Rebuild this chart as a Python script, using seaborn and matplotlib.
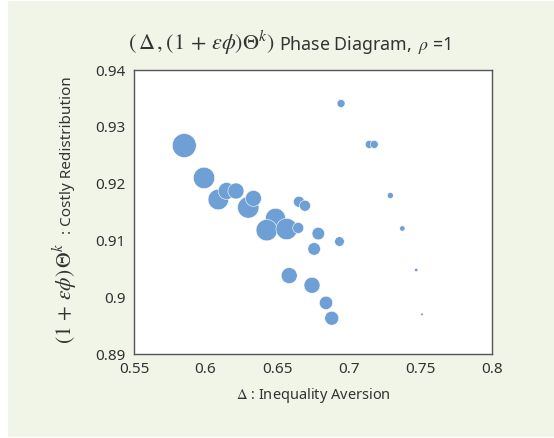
import matplotlib
matplotlib.use("Agg")
import matplotlib.pyplot as plt
from matplotlib.patches import Rectangle
import seaborn as sns
import pandas as pd

# Data
inequality_aversion = [0.5851, 0.5989, 0.6089, 0.6147, 0.6212, 0.6298, 0.6334,
                       0.6488, 0.6427, 0.6566, 0.6647, 0.6652, 0.6694, 0.6787,
                       0.6935, 0.6758, 0.6584, 0.6743, 0.6841, 0.6881, 0.6946,
                       0.7143, 0.7178, 0.7290, 0.7374, 0.7471, 0.7511]
costly_redistribution = [0.9267, 0.9210, 0.9172, 0.9187, 0.9187, 0.9158, 0.9174,
                         0.9139, 0.9118, 0.9120, 0.9122, 0.9168, 0.9161, 0.9112,
                         0.9098, 0.9085, 0.9038, 0.9021, 0.8990, 0.8963, 0.9341,
                         0.9269, 0.9269, 0.9179, 0.9121, 0.9048, 0.8970]
bubble_size = [298, 237, 220, 150, 133, 237, 133,
               207, 237, 237, 63, 63, 63, 82,
               48, 82, 133, 133, 93, 101, 33,
               33, 33, 19, 15, 6, 3.5]
x_ticks = [0.55, 0.6, 0.65, 0.7, 0.75, 0.8]
x_tick_labels = ["0.55", "0.6", "0.65", "0.7", "0.75", "0.8"]
y_ticks = [0.89, 0.9, 0.91, 0.92, 0.93, 0.94]
y_tick_labels = ["0.89", "0.9", "0.91", "0.92", "0.93", "0.94"]

df = pd.DataFrame({"x": inequality_aversion, "y": costly_redistribution, "s": bubble_size})

sns.set_theme(style="white")
plt.rcParams["font.family"] = ["Noto Sans", "DejaVu Sans"]
plt.rcParams["mathtext.fontset"] = "stix"

W, H = 554, 438
text_color = "#333333"
fig = plt.figure(figsize=(W / 100, H / 100), dpi=100)
fig.patch.set_facecolor("white")
fig.patches.append(Rectangle((8 / W, 1 / H), 1 - 8 / W, 1 - 2 / H,
                             transform=fig.transFigure, facecolor="#f1f5e8",
                             edgecolor="none", zorder=-10))

ax = fig.add_axes([134 / W, 1 - 354 / H, 358 / W, 284 / H])
ax.set_facecolor("white")

smin, smax = min(bubble_size), max(bubble_size)
sns.scatterplot(data=df, x="x", y="y", size="s", sizes=(smin, smax),
                size_norm=(smin, smax), color="#6e9fd5", edgecolor="white",
                linewidth=0.4, alpha=1.0, legend=False, ax=ax, zorder=3)

ax.set_xlim(0.55, 0.8)
ax.set_ylim(0.89, 0.94)
ax.set_xticks(x_ticks)
ax.set_xticklabels(x_tick_labels)
ax.set_yticks(y_ticks)
ax.set_yticklabels(y_tick_labels)
ax.tick_params(axis="both", length=0, labelsize=11, colors=text_color, pad=6)
for sp in ax.spines.values():
    sp.set_visible(True)
    sp.set_color("#555555")
    sp.set_linewidth(1.0)

ax.set_xlabel(r"$\Delta$ : Inequality Aversion", fontsize=10.5, color=text_color, labelpad=6)
ax.set_ylabel("")

# y label: larger math part + text part
fig.text(72 / W, 1 - 344 / H, r"$(1\,+\,\epsilon\phi)\,\Theta^k$", rotation=90,
         rotation_mode="anchor", ha="left", va="baseline", fontsize=15.5, color=text_color)
fig.text(71 / W, 1 - 234 / H, ": Costly Redistribution", rotation=90,
         rotation_mode="anchor", ha="left", va="baseline", fontsize=11, color=text_color)

# title: larger math part + text part
fig.text(275 / W, 1 - 50 / H, r"$(\,\Delta\,,(1\,+\,\epsilon\phi)\Theta^k)$",
         ha="right", va="baseline", fontsize=16, color=text_color)
fig.text(279 / W, 1 - 50 / H, "Phase Diagram, \u2009$\\rho$ =1",
         ha="left", va="baseline", fontsize=12.8, color=text_color)

fig.savefig("out.png", dpi=100, facecolor=fig.get_facecolor())
